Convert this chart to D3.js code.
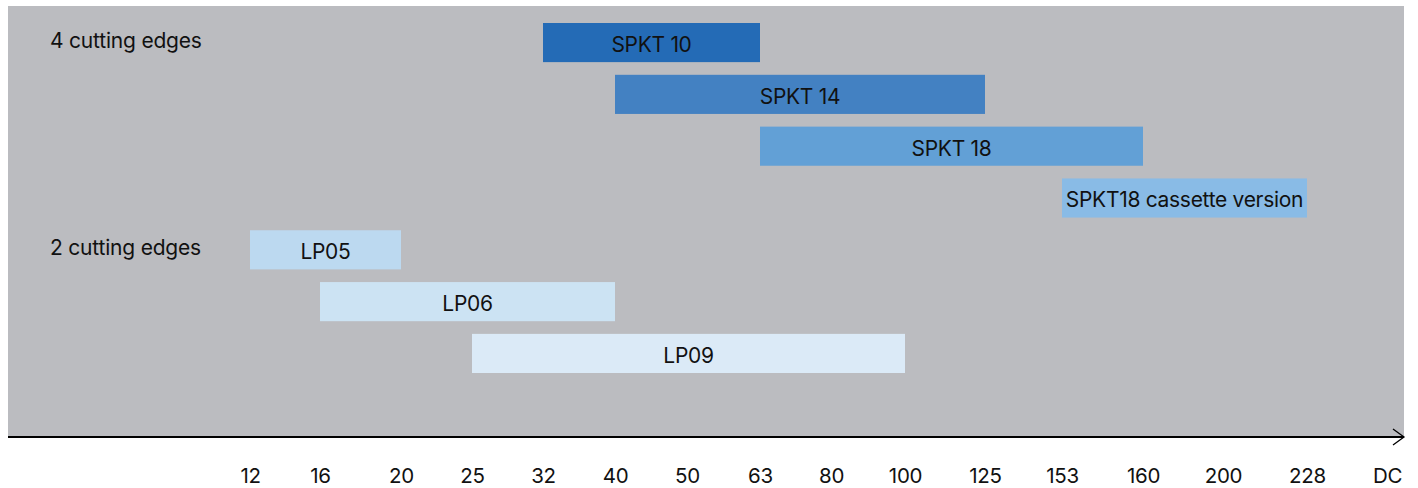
<!DOCTYPE html>
<html>
<head>
<meta charset="utf-8">
<script src="https://cdn.jsdelivr.net/npm/d3@7"></script>
<style>
  body { margin: 0; background: #fff; }
  svg { display: block; font-family: Inter, "Noto Sans", sans-serif; }
</style>
</head>
<body>
<script>
// diameter classes on the axis (categorical, not to scale)
var ticks = ["12", "16", "20", "25", "32", "40", "50", "63", "80", "100", "125", "153", "160", "200", "228", "DC"];

// bars
var names  = ["SPKT 10", "SPKT 14", "SPKT 18", "SPKT18 cassette version", "LP05", "LP06", "LP09"];
var starts = ["32", "40", "63", "153", "12", "16", "25"];
var ends   = ["63", "125", "160", "228", "20", "40", "100"];
var groups = ["4 cutting edges", "4 cutting edges", "4 cutting edges", "4 cutting edges",
              "2 cutting edges", "2 cutting edges", "2 cutting edges"];

var colors = ["#246bb6", "#4381c2", "#62a0d6", "#89bbe6", "#bcd9f0", "#cce3f3", "#dbeaf7"];

var width = 1418, height = 488;
var plot = {left: 8, right: 1404, top: 6, bottom: 437};

// the drawing spaces the classes unevenly, so the scale is piecewise over the class index
var tickX = [250, 320, 401, 472, 543, 615, 687, 760, 831, 905, 985, 1062, 1143, 1223, 1307, 1387];
var x = d3.scaleLinear()
  .domain(d3.range(ticks.length))
  .range(tickX);
function xPos(cat) { return x(ticks.indexOf(cat)); }

var y = d3.scaleBand()
  .domain(names)
  .range([23, 373])
  .paddingInner(0.245)
  .paddingOuter(0);

var svg = d3.select("body").append("svg")
  .attr("width", width)
  .attr("height", height);

// grey panel
svg.append("rect")
  .attr("x", plot.left)
  .attr("y", plot.top)
  .attr("width", plot.right - plot.left)
  .attr("height", plot.bottom - plot.top)
  .attr("fill", "#bbbcc0");

// bars
var rows = d3.range(names.length);

svg.selectAll("rect.bar")
  .data(rows)
  .enter().append("rect")
  .attr("class", "bar")
  .attr("x", function(i) { return xPos(starts[i]); })
  .attr("y", function(i) { return y(names[i]); })
  .attr("width", function(i) { return xPos(ends[i]) - xPos(starts[i]); })
  .attr("height", y.bandwidth())
  .attr("fill", function(i) { return colors[i]; });

svg.selectAll("text.barlabel")
  .data(rows)
  .enter().append("text")
  .attr("class", "barlabel")
  .attr("x", function(i) { return (xPos(starts[i]) + xPos(ends[i])) / 2; })
  .attr("y", function(i) { return y(names[i]) + 29; })
  .attr("text-anchor", "middle")
  .attr("font-size", 21)
  .attr("letter-spacing", -0.3)
  .attr("fill", "#111")
  .text(function(i) { return names[i]; });

// group labels, at the first row of each group
var groupNames = Array.from(new Set(groups));
svg.selectAll("text.group")
  .data(groupNames)
  .enter().append("text")
  .attr("class", "group")
  .attr("x", 50)
  .attr("y", function(g) { return y(names[groups.indexOf(g)]) + 25; })
  .attr("font-size", 21)
  .attr("letter-spacing", -0.2)
  .attr("fill", "#111")
  .text(function(g) { return g; });

// x axis
var axis = svg.append("g")
  .attr("transform", "translate(0," + plot.bottom + ")")
  .call(d3.axisBottom(x)
    .tickValues(d3.range(ticks.length))
    .tickFormat(function(i) { return ticks[i]; })
    .tickSize(0)
    .tickPadding(31));

axis.select(".domain").remove();
axis.selectAll("text")
  .attr("font-family", "Inter, 'Noto Sans', sans-serif")
  .attr("font-size", 20.5)
  .attr("letter-spacing", -0.3)
  .attr("fill", "#111");

// axis line with arrow head
svg.append("line")
  .attr("x1", plot.left)
  .attr("x2", plot.right)
  .attr("y1", plot.bottom)
  .attr("y2", plot.bottom)
  .attr("stroke", "#000")
  .attr("stroke-width", 2);

svg.append("path")
  .attr("d", "M" + (plot.right - 11) + "," + (plot.bottom - 8) +
             "L" + plot.right + "," + plot.bottom +
             "L" + (plot.right - 11) + "," + (plot.bottom + 8))
  .attr("fill", "none")
  .attr("stroke", "#000")
  .attr("stroke-width", 1.3);
</script>
</body>
</html>
